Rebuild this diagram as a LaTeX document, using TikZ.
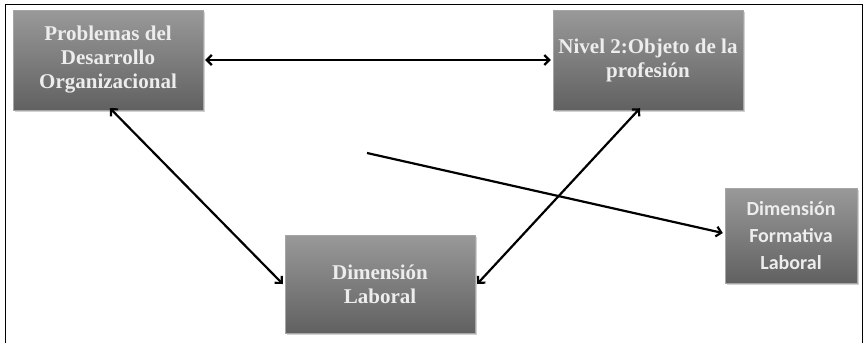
\documentclass[tikz,border=0pt]{standalone}
\usepackage{fontspec}
\setmainfont{Liberation Serif}
\newfontfamily\boxsans{Carlito}
\usetikzlibrary{arrows.meta,shadows}
\begin{document}
\begin{tikzpicture}[x=1pt,y=-1pt,
  gbox/.style={rectangle, draw=gray!70, line width=0.4pt, top color=black!40, bottom color=black!62,
    drop shadow={shadow xshift=1.5pt,shadow yshift=-1.5pt,fill=black!35},
    text=white!93!black, align=center, inner sep=2pt},
  serifbox/.style={gbox, font=\fontsize{21}{24}\selectfont\bfseries},
  sansbox/.style={gbox, font=\boxsans\fontsize{20}{27}\selectfont\bfseries},
  conn/.style={draw=black, line width=2.2pt, {Straight Barb[length=5pt,width=10pt]}-{Straight Barb[length=5pt,width=10pt]}},
  conn1/.style={draw=black, line width=2.2pt, -{Straight Barb[length=5pt,width=10pt]}}]
\useasboundingbox (0,0) rectangle (867,343);
\draw[line width=1pt] (5,343) -- (5,4) -- (862,4) -- (862,343);
\node[serifbox, minimum width=190pt, minimum height=100pt, text depth=6pt] (p) at (108,60) {Problemas del\\Desarrollo\\Organizacional};
\node[serifbox, minimum width=190pt, minimum height=100pt] (n) at (648,60) {Nivel 2:Objeto de la\\profesión};
\node[serifbox, minimum width=190pt, minimum height=98pt] (d) at (380,284) {Dimensión\\Laboral};
\node[sansbox, minimum width=132pt, minimum height=95pt] (f) at (791,235.5) {Dimensión\\Formativa\\Laboral};
\coordinate (s) at (367,153);
\draw[conn] ([xshift=2pt]p.east) -- ([xshift=-2pt]n.west);
\draw[conn] ([shift={(2pt,2pt)}]p.south) -- ([xshift=-2pt]d.west);
\draw[conn] ([shift={(-8pt,2pt)}]n.south) -- ([xshift=2pt]d.east);
\draw[conn1] (s) -- ([xshift=-2pt,yshift=2.5pt]f.west);
\end{tikzpicture}
\end{document}
